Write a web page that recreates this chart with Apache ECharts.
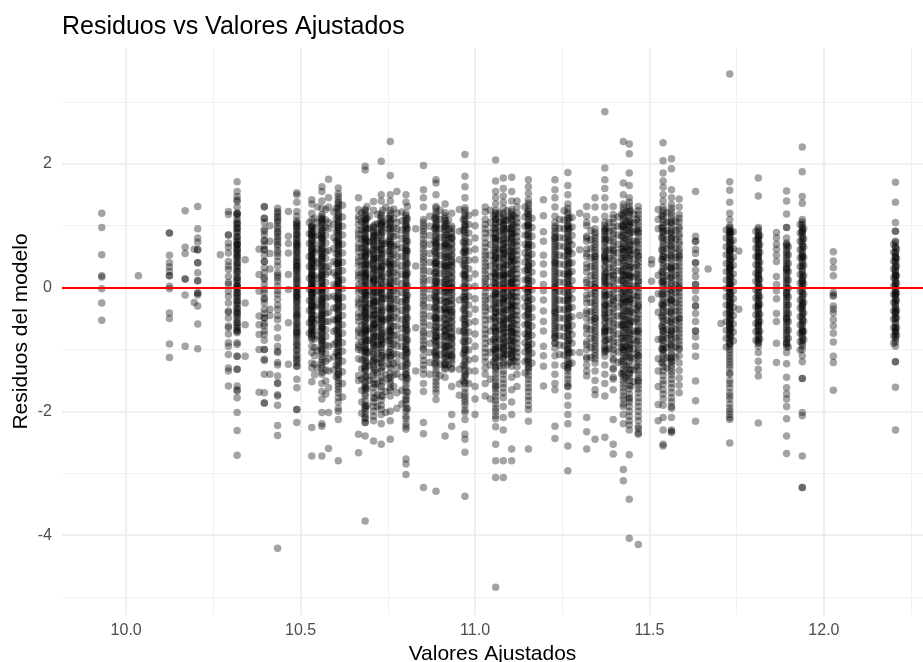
<!DOCTYPE html>
<html>
<head>
<meta charset="utf-8">
<title>Residuos vs Valores Ajustados</title>
<script src="https://cdn.jsdelivr.net/npm/echarts@6/dist/echarts.min.js"></script>
<style>
  html, body { margin: 0; padding: 0; background: #fff; }
  #chart { width: 923px; height: 662px; }
</style>
</head>
<body>
<div id="chart"></div>
<script>
// residuos, agrupados por valor ajustado (columna)
// en las columnas densas la segunda linea son los puntos superpuestos del nucleo negro
const c0993 = [1.20, 0.97, 0.53, 0.19, 0.17, -0.02, -0.25, -0.53];
const c1004 = [0.19];
const c1012 = [0.88, 0.88, 0.52, 0.40, 0.33, 0.26, 0.19, 0.19, 0.02, -0.02, -0.41, -0.50, -0.91, -1.13];
const c1017 = [1.24, 0.65, 0.55, 0.14, 0.14, -0.12, -0.95];
const c1019 = [0.62, -0.24];
const c1021 = [1.31, 0.95, 0.80, 0.73, 0.61, 0.61, 0.40, 0.40, 0.24, 0.11, 0.11, -0.09, -0.09, -0.12, -0.30, -0.59, -0.99];
const c1027 = [0.53];
const c1029 = [1.23, 1.18, 0.85, 0.85, 0.72, 0.65, 0.56, 0.42, 0.35, 0.29, 0.18, 0.08, 0.05, -0.06, -0.14, -0.25, -0.38, -0.40, -0.49, -0.62, -0.65, -0.75, -0.89, -0.95, -1.08, -1.30, -1.35, -1.59];
const c1032 = [1.71, 1.55, 1.47, 1.42, 1.39, 1.30, 1.20, 1.20, 1.19, 1.10, 1.03, 1.03, 0.95, 0.95, 0.88, 0.82, 0.82, 0.75, 0.69, 0.69, 0.69, 0.61, 0.61, 0.55, 0.51, 0.51, 0.45, 0.40, 0.40, 0.33, 0.26, 0.26, 0.21, 0.16, 0.16, 0.10, 0.02, 0.02, 0.02, -0.04, -0.09, -0.09, -0.15, -0.22, -0.22, -0.28, -0.34, -0.34, -0.41, -0.41, -0.48, -0.57, -0.57, -0.64, -0.70, -0.70, -0.73, -0.89, -0.92, -1.11, -1.11, -1.32, -1.32, -1.59, -1.65, -1.67, -1.78, -2.02, -2.31, -2.71,
  1.16, 1.06, .98, .90, .78, .72, .64, .58, .48, .36, .30, .12, .06, -.02, -.12, -.18, -.26, -.38, -.45, -.52, -.61, -.67];
const c1034 = [0.45, -0.25, -0.60, -1.11];
const c1038 = [0.62, 0.21, -0.06, -0.46, -0.60, -0.76, -1.00, -1.69];
const c1040 = [1.31, 1.30, 1.12, 1.12, 0.94, 0.91, 0.77, 0.75, 0.61, 0.61, 0.42, 0.42, 0.24, 0.16, 0.13, -0.03, -0.09, -0.17, -0.19, -0.35, -0.49, -0.49, -0.62, -0.70, -0.76, -1.00, -1.00, -1.16, -1.18, -1.40, -1.70, -1.86, -1.87,
  1.05, .85, .68, .52, .32, .05, -.25, -.42, -.58, -.85];
const c1041 = [1.00, 0.75, 0.55, 0.30, -0.35, -0.45, -1.40];
const c1043 = [1.28, 1.23, 1.15, 1.12, 1.05, 0.99, 0.95, 0.90, 0.83, 0.75, 0.70, 0.67, 0.60, 0.56, 0.42, 0.24, 0.20, 0.16, 0.02, -0.11, -0.19, -0.35, -0.52, -0.65, -0.81, -0.95, -1.03, -1.05, -1.21, -1.25, -1.43, -1.54, -1.55, -1.73, -1.75, -1.90, -2.23, -2.39, -4.21,
  1.20, 1.08, .88, .79, .50, .35, .10, -.05, -.28, -.45];
const c1046 = [1.23, 0.83, 0.71, 0.56, 0.21, -0.03, -0.57, -1.24];
const c1049 = [1.53, 1.50, 1.38, 1.23, 1.15, 1.04, 1.04, 0.98, 0.92, 0.85, 0.85, 0.78, 0.72, 0.67, 0.67, 0.60, 0.55, 0.51, 0.45, 0.40, 0.34, 0.34, 0.28, 0.22, 0.18, 0.12, 0.06, 0.02, -0.03, -0.08, -0.14, -0.14, -0.20, -0.25, -0.30, -0.36, -0.44, -0.44, -0.50, -0.55, -0.60, -0.67, -0.73, -0.73, -0.80, -0.89, -0.95, -1.02, -1.11, -1.18, -1.27, -1.27, -1.48, -1.62, -1.97, -1.97, -2.18,
  1.08, 1.00, .95, .88, .80, .74, .70, .63, .57, .48, .42, .37, .30, .25, .15, .09, -.01, -.06, -.11, -.17, -.23, -.33, -.40, -.47, -.58, -.64, -.70, -.77, -.84, -.92, -1.00, -1.08, -1.15, -1.22];
const c1053 = [1.42, 1.35, 1.20, 1.10, 1.00, 0.99, 0.94, 0.88, 0.85, 0.82, 0.76, 0.70, 0.64, 0.60, 0.58, 0.52, 0.47, 0.45, 0.41, 0.35, 0.30, 0.24, 0.20, 0.18, 0.12, 0.07, 0.05, 0.01, -0.05, -0.10, -0.11, -0.17, -0.23, -0.29, -0.30, -0.35, -0.41, -0.47, -0.50, -0.53, -0.59, -0.65, -0.70, -0.72, -0.78, -0.84, -0.95, -1.05, -1.22, -1.30, -1.52, -2.26, -2.72,
  .97, .91, .86, .79, .73, .67, .62, .55, .50, .43, .38, .32, .27, .21, .15, .09, .03, -.02, -.08, -.14, -.20, -.26, -.32, -.38, -.44, -.51, -.56, -.62, -.68, -.75, -.81];
const c1055 = [1.30, 1.05, .85, .62, .40, .15, -.05, -.28, -.52, -.78, -1.02, -1.30];
const c1056 = [1.63, 1.55, 1.40, 1.28, 1.15, 1.10, 1.08, 1.02, 0.95, 0.90, 0.84, 0.80, 0.78, 0.72, 0.66, 0.61, 0.55, 0.50, 0.49, 0.43, 0.37, 0.31, 0.25, 0.20, 0.19, 0.13, 0.08, 0.02, 0.00, -0.04, -0.10, -0.16, -0.20, -0.22, -0.28, -0.34, -0.40, -0.45, -0.46, -0.52, -0.58, -0.64, -0.65, -0.70, -0.76, -0.83, -0.85, -0.90, -0.98, -1.00, -1.07, -1.17, -1.25, -1.37, -1.55, -1.68, -1.80, -2.02, -2.20, -2.24, -2.72,
  1.18, 1.12, 1.05, .98, .92, .87, .81, .75, .69, .63, .58, .52, .46, .40, .34, .28, .22, .16, .10, .04, -.02, -.07, -.13, -.19, -.25, -.31, -.37, -.43, -.49, -.55, -.61, -.67, -.73, -.80, -.87, -.94, -1.03, -1.12, -1.21, -1.30, -1.40];
const c1058 = [1.75, 1.45, 1.30, 1.05, 0.95, 0.60, 0.35, 0.25, -0.15, -0.40, -0.55, -0.95, -1.15, -1.35, -1.62, -2.02, -2.60];
const c1059 = [1.22, 1.02, .81, .63, .42, .24, .05, -.14, -.33, -.52, -.71, -.92, -1.12, -1.33];
const c1061 = [1.61, 1.52, 1.47, 1.38, 1.30, 1.22, 1.15, 1.08, 1.01, 1.00, 0.94, 0.88, 0.81, 0.75, 0.70, 0.68, 0.62, 0.55, 0.49, 0.42, 0.40, 0.36, 0.30, 0.23, 0.17, 0.10, 0.10, 0.04, -0.02, -0.09, -0.15, -0.20, -0.22, -0.28, -0.35, -0.41, -0.48, -0.50, -0.54, -0.61, -0.67, -0.74, -0.80, -0.81, -0.88, -0.95, -1.02, -1.10, -1.10, -1.18, -1.26, -1.35, -1.40, -1.45, -1.55, -1.65, -1.78, -1.95, -2.13, -2.80,
  1.42, 1.35, 1.27, 1.18, 1.12, 1.05, .97, .91, .85, .78, .72, .65, .59, .52, .45, .39, .33, .26, .20, .13, .07, .01, -.05, -.12, -.18, -.25, -.31, -.38, -.44, -.51, -.57, -.64, -.70, -.77, -.84, -.91, -.98, -1.05, -1.14, -1.22, -1.30, -1.40, -1.50, -1.60, -1.70, -1.85, -2.00];
const c1067 = [1.45, 1.26, 1.15, 1.02, 0.92, 0.80, 0.70, 0.58, 0.48, 0.36, 0.25, 0.15, 0.04, -0.08, -0.19, -0.30, -0.42, -0.55, -0.68, -0.80, -0.92, -1.00, -1.15, -1.42, -1.50, -2.37, -2.67,
  1.10, .86, .64, .42, .20, -.02, -.25, -.48, -.72, -.96];
const c1068 = [1.96, 1.90, 1.26, 1.20, 1.12, 1.10, 1.05, 0.98, 0.92, 0.85, 0.80, 0.78, 0.72, 0.65, 0.58, 0.52, 0.50, 0.45, 0.38, 0.32, 0.25, 0.20, 0.18, 0.12, 0.05, -0.02, -0.08, -0.10, -0.15, -0.22, -0.28, -0.35, -0.40, -0.42, -0.48, -0.55, -0.62, -0.68, -0.70, -0.75, -0.82, -0.88, -0.95, -1.00, -1.02, -1.10, -1.18, -1.27, -1.30, -1.35, -1.45, -1.55, -1.60, -1.65, -1.75, -1.90, -1.95, -2.00, -2.10, -2.12, -2.18, -2.18, -2.40, -3.77,
  1.24, 1.16, 1.08, 1.02, .95, .88, .82, .75, .69, .62, .55, .49, .42, .36, .29, .22, .16, .09, .02, -.05, -.12, -.18, -.25, -.32, -.38, -.45, -.52, -.58, -.65, -.72, -.78, -.85, -.92, -.98, -1.05, -1.13, -1.22, -1.32, -1.42, -1.52, -1.62, -1.72, -1.83, -1.93, -2.05];
const c1070 = [1.15, .96, .74, .55, .36, .14, -.05, -.26, -.44, -.66, -.85, -1.04, -1.26, -1.50];
const c1071 = [1.39, 1.25, 0.99, 0.92, 0.85, 0.80, 0.77, 0.70, 0.62, 0.55, 0.47, 0.45, 0.40, 0.32, 0.25, 0.17, 0.10, 0.10, 0.02, -0.05, -0.13, -0.20, -0.25, -0.28, -0.35, -0.43, -0.50, -0.58, -0.60, -0.65, -0.73, -0.80, -0.88, -0.90, -0.98, -1.08, -1.18, -1.20, -1.30, -1.42, -1.55, -1.70, -1.85, -2.00, -2.15, -2.48,
  .97, .89, .82, .74, .67, .59, .52, .44, .37, .29, .22, .14, .07, -.01, -.09, -.16, -.23, -.31, -.38, -.46, -.53, -.61, -.68, -.76, -.83, -.93, -1.03, -1.13, -1.25, -1.37, -1.48, -1.62, -1.78, -1.92, -2.08];
const c1073 = [2.04, 1.50, 1.40, 1.20, 1.12, 1.04, 1.00, 0.96, 0.88, 0.80, 0.72, 0.64, 0.60, 0.56, 0.48, 0.40, 0.32, 0.30, 0.24, 0.16, 0.08, 0.00, -0.08, -0.10, -0.16, -0.24, -0.32, -0.40, -0.48, -0.50, -0.56, -0.64, -0.72, -0.80, -0.85, -0.88, -0.96, -1.05, -1.15, -1.20, -1.30, -1.45, -1.60, -1.75, -1.90, -2.05, -2.20, -2.53,
  1.16, 1.08, 1.01, .92, .84, .76, .68, .62, .52, .44, .36, .28, .20, .12, .04, -.04, -.12, -.20, -.28, -.36, -.44, -.52, -.60, -.68, -.76, -.84, -.92, -1.00, -1.10, -1.22, -1.35, -1.50, -1.65, -1.82, -1.97];
const c1074 = [1.30, 1.02, .71, .42, .09, -.18, -.52, -.79, -1.12, -1.41, -1.68, -2.02];
const c1075 = [2.36, 1.81, 1.50, 1.40, 1.25, 1.16, 1.07, 1.05, 0.98, 0.90, 0.82, 0.74, 0.70, 0.66, 0.58, 0.50, 0.42, 0.35, 0.34, 0.26, 0.18, 0.10, 0.02, 0.00, -0.06, -0.14, -0.22, -0.30, -0.35, -0.38, -0.46, -0.54, -0.62, -0.70, -0.70, -0.78, -0.86, -0.95, -1.05, -1.10, -1.15, -1.30, -1.45, -1.55, -1.62, -1.75, -2.00, -2.15, -2.45,
  1.20, 1.11, 1.02, .94, .86, .78, .70, .62, .54, .46, .38, .30, .22, .14, .06, -.02, -.10, -.18, -.26, -.34, -.42, -.50, -.58, -.66, -.74, -.82, -.90, -1.00, -1.12, -1.25, -1.38, -1.50, -1.66];
const c1078 = [1.55, 1.20, 0.95, 0.70, 0.50, 0.30, 0.10, -0.10, -0.30, -0.50, -0.75, -0.95, -1.20, -1.40, -1.70, -1.95,
  1.05, .85, .62, .40, .20, 0, -.20, -.40, -.62, -.85, -1.08, -1.30];
const c1080 = [1.50, 1.38, 1.20, 1.12, 1.04, 1.00, 0.96, 0.88, 0.80, 0.72, 0.64, 0.60, 0.56, 0.48, 0.40, 0.32, 0.24, 0.20, 0.16, 0.08, 0.00, -0.08, -0.16, -0.20, -0.24, -0.32, -0.40, -0.48, -0.56, -0.60, -0.64, -0.72, -0.80, -0.88, -0.96, -1.00, -1.04, -1.12, -1.20, -1.30, -1.40, -1.40, -1.50, -1.62, -1.75, -1.80, -1.88, -2.00, -2.12, -2.20, -2.25, -2.29, -2.77, -2.85, -3.02,
  1.16, 1.08, 1.00, .92, .84, .76, .68, .60, .52, .44, .36, .28, .20, .12, .04, -.04, -.12, -.20, -.28, -.36, -.44, -.52, -.60, -.68, -.76, -.84, -.92, -1.00, -1.08, -1.16, -1.25, -1.35, -1.45, -1.56, -1.68, -1.82, -1.95, -2.08];
const c1083 = [0.95, 0.35, -0.65, -1.35];
const c1085 = [1.97, 1.58, 1.45, 1.30, 1.10, 1.00, 0.90, 0.85, 0.78, 0.68, 0.56, 0.50, 0.45, 0.33, 0.22, 0.15, 0.10, -0.02, -0.14, -0.26, -0.30, -0.38, -0.50, -0.62, -0.70, -0.74, -0.86, -0.98, -1.00, -1.10, -1.25, -1.40, -1.55, -1.68, -2.18, -2.36, -3.23,
  1.05, .95, .72, .62, .40, .28, .05, -.08, -.20, -.44, -.56, -.80, -.92, -1.18, -1.32];
const c1089 = [1.74, 1.69, 1.50, 1.31, 1.22, 1.14, 1.06, 1.00, 0.98, 0.90, 0.82, 0.74, 0.70, 0.66, 0.58, 0.50, 0.42, 0.40, 0.34, 0.26, 0.18, 0.10, 0.10, 0.02, -0.06, -0.14, -0.20, -0.22, -0.30, -0.38, -0.46, -0.50, -0.54, -0.62, -0.70, -0.78, -0.80, -0.86, -0.94, -1.02, -1.10, -1.12, -1.22, -1.34, -1.46, -1.58, -1.70, -1.81, -3.29,
  1.28, 1.18, 1.10, 1.02, .94, .86, .78, .71, .63, .55, .47, .39, .31, .23, .15, .07, -.01, -.09, -.17, -.25, -.33, -.41, -.49, -.57, -.65, -.73, -.81, -.89, -.97, -1.06, -1.16, -1.27, -1.39, -1.52, -1.64];
const c1091 = [1.35, 1.21, 1.12, 1.03, 1.00, 0.94, 0.85, 0.76, 0.70, 0.67, 0.58, 0.49, 0.40, 0.35, 0.31, 0.22, 0.13, 0.04, 0.00, -0.05, -0.14, -0.23, -0.32, -0.35, -0.41, -0.50, -0.59, -0.68, -0.70, -0.77, -0.86, -0.95, -1.00, -1.04, -1.13, -1.22, -1.25, -1.32, -1.45, -2.40,
  1.16, 1.08, .98, .90, .81, .72, .63, .54, .45, .36, .27, .18, .09, .02, -.07, -.16, -.25, -.34, -.43, -.52, -.61, -.70, -.79, -.88, -.97, -1.06, -1.15, -1.24, -1.30];
const c1093 = [1.20, 0.99, 0.90, 0.81, 0.80, 0.72, 0.63, 0.54, 0.45, 0.40, 0.36, 0.27, 0.18, 0.09, 0.00, 0.00, -0.09, -0.18, -0.27, -0.36, -0.40, -0.45, -0.54, -0.63, -0.72, -0.80, -0.81, -0.90, -0.99, -1.08, -1.10, -1.17, -1.32, -1.60, -2.05, -2.24,
  .96, .87, .78, .69, .60, .51, .42, .33, .24, .15, .06, -.03, -.12, -.21, -.30, -.39, -.48, -.57, -.66, -.75, -.84, -.93, -1.02, -1.12, -1.22, -1.30];
const c1095 = [1.26, 0.91, 0.45, -0.20, -0.70, -1.32, -1.56, -1.74];
const c1097 = [2.15, 1.80, 1.63, 1.45, 1.29, 1.20, 1.11, 1.02, 1.00, 0.93, 0.84, 0.75, 0.66, 0.60, 0.57, 0.48, 0.39, 0.30, 0.21, 0.20, 0.12, 0.03, -0.06, -0.15, -0.20, -0.24, -0.33, -0.42, -0.51, -0.60, -0.60, -0.69, -0.78, -0.87, -0.96, -1.00, -1.05, -1.15, -1.25, -1.35, -1.40, -1.45, -1.55, -1.70, -1.80, -1.85, -2.02, -2.13, -2.37, -2.45, -2.66, -3.37,
  1.25, 1.16, 1.07, .98, .89, .80, .71, .62, .53, .44, .35, .26, .17, .08, -.01, -.10, -.19, -.28, -.37, -.46, -.55, -.64, -.73, -.82, -.91, -1.01, -1.10, -1.20, -1.30, -1.42, -1.52, -1.63, -1.75, -1.90, -1.98];
const c1100 = [1.21, 1.00, 0.80, 0.62, 0.45, 0.22, 0.02, -0.18, -0.35, -0.55, -0.75, -0.95, -1.15, -1.35, -1.60, -1.80, -2.05];
const c1103 = [1.30, 1.10, 0.95, 0.80, 0.65, 0.52, 0.40, 0.28, 0.15, 0.05, -0.08, -0.20, -0.32, -0.45, -0.60, -0.75, -0.90, -1.05, -1.20, -1.40, -1.55, -1.75,
  1.22, 1.02, .88, .72, .58, .46, .34, .22, .10, 0, -.14, -.26, -.38, -.52, -.68, -.82, -.98, -1.12, -1.30];
const c1104 = [1.25, 1.05, .88, .70, .52, .35, .18, 0, -.18, -.35, -.52, -.70, -.88, -1.05, -1.25, -1.48, -1.80];
const c1106 = [2.06, 1.72, 1.55, 1.45, 1.35, 1.25, 1.21, 1.13, 1.10, 1.05, 0.97, 0.89, 0.81, 0.80, 0.73, 0.65, 0.57, 0.50, 0.49, 0.41, 0.33, 0.25, 0.20, 0.17, 0.09, 0.01, -0.07, -0.10, -0.15, -0.23, -0.31, -0.39, -0.40, -0.47, -0.55, -0.63, -0.70, -0.71, -0.79, -0.87, -0.95, -1.00, -1.03, -1.11, -1.16, -1.28, -1.30, -1.40, -1.52, -1.60, -1.64, -1.76, -1.88, -2.00, -2.12, -2.25, -2.53, -2.80, -3.07, -4.84,
  1.18, 1.10, 1.02, .94, .86, .78, .70, .62, .54, .46, .38, .30, .22, .14, .06, -.02, -.10, -.18, -.26, -.34, -.42, -.50, -.58, -.66, -.74, -.82, -.90, -.98, -1.06, -1.14, -1.22, -1.34, -1.46, -1.58, -1.70, -1.82, -1.95, -2.07];
const c1108 = [1.77, 1.60, 1.48, 1.38, 1.28, 1.20, 1.12, 1.04, 1.00, 0.96, 0.88, 0.80, 0.72, 0.64, 0.60, 0.56, 0.48, 0.40, 0.32, 0.24, 0.20, 0.16, 0.08, 0.00, -0.08, -0.16, -0.20, -0.24, -0.32, -0.40, -0.48, -0.56, -0.60, -0.64, -0.72, -0.80, -0.88, -0.96, -1.00, -1.04, -1.12, -1.22, -1.35, -1.48, -1.62, -1.78, -1.92, -2.10, -2.30, -2.80, -3.07,
  1.17, 1.09, 1.01, .93, .85, .77, .69, .61, .53, .45, .37, .29, .21, .13, .05, -.03, -.11, -.19, -.27, -.35, -.43, -.51, -.59, -.67, -.75, -.83, -.91, -.99, -1.07, -1.15, -1.25, -1.40, -1.55, -1.70];
const c1111 = [1.78, 1.55, 1.40, 1.26, 1.18, 1.10, 1.02, 0.94, 0.90, 0.86, 0.78, 0.70, 0.62, 0.54, 0.50, 0.46, 0.38, 0.30, 0.22, 0.14, 0.10, 0.06, -0.02, -0.10, -0.18, -0.26, -0.30, -0.34, -0.42, -0.50, -0.58, -0.66, -0.70, -0.74, -0.82, -0.90, -0.98, -1.06, -1.10, -1.14, -1.27, -1.45, -1.65, -1.85, -2.05, -2.61, -2.80,
  1.22, 1.14, 1.06, .98, .88, .82, .74, .66, .58, .48, .42, .34, .26, .18, .08, .02, -.06, -.14, -.22, -.32, -.38, -.46, -.54, -.62, -.72, -.78, -.86, -.94, -1.02, -1.12, -1.20];
const c1112 = [1.40, 1.20, 1.05, 0.90, 0.75, 0.60, 0.45, 0.30, 0.15, 0.00, -0.15, -0.30, -0.45, -0.60, -0.75, -0.90, -1.05, -1.20, -1.40, -1.60,
  1.30, 1.12, .98, .82, .68, .52, .38, .22, .08, -.08, -.22, -.38, -.52, -.68, -.82, -.98, -1.12, -1.28];
const c1115 = [1.74, 1.63, 1.52, 1.42, 1.32, 1.23, 1.14, 1.05, 1.00, 0.96, 0.87, 0.78, 0.70, 0.69, 0.60, 0.51, 0.42, 0.35, 0.33, 0.24, 0.15, 0.06, 0.00, -0.03, -0.12, -0.21, -0.30, -0.35, -0.39, -0.48, -0.57, -0.66, -0.70, -0.75, -0.84, -0.93, -1.00, -1.02, -1.11, -1.20, -1.30, -1.30, -1.42, -1.55, -1.68, -1.82, -1.97, -2.16, -2.61,
  1.36, 1.26, 1.18, 1.10, 1.01, .92, .83, .74, .65, .56, .47, .38, .29, .20, .11, .02, -.07, -.16, -.25, -.34, -.43, -.52, -.61, -.70, -.79, -.88, -.97, -1.06, -1.15, -1.25, -1.36, -1.48, -1.62, -1.76, -1.90];
const c1120 = [1.42, 1.16, 0.90, 0.75, 0.52, 0.38, 0.22, 0.05, -0.05, -0.20, -0.38, -0.55, -0.70, -0.95, -1.10, -1.27, -1.59];
const c1123 = [1.74, 1.58, 1.45, 1.30, 1.15, 1.05, 0.99, 0.90, 0.82, 0.80, 0.74, 0.66, 0.58, 0.50, 0.42, 0.40, 0.34, 0.26, 0.18, 0.10, 0.02, 0.00, -0.06, -0.14, -0.22, -0.30, -0.38, -0.40, -0.46, -0.54, -0.62, -0.70, -0.78, -0.80, -0.89, -0.98, -1.10, -1.25, -1.40, -1.55, -1.65, -2.24, -2.44,
  .96, .87, .78, .70, .62, .54, .46, .38, .30, .22, .14, .06, -.02, -.10, -.18, -.26, -.34, -.42, -.50, -.58, -.66, -.74, -.82, -.90];
const c1127 = [1.86, 1.65, 1.50, 1.35, 1.22, 1.12, 1.02, 1.00, 0.94, 0.86, 0.78, 0.70, 0.62, 0.60, 0.54, 0.46, 0.38, 0.30, 0.22, 0.20, 0.14, 0.06, -0.02, -0.10, -0.18, -0.20, -0.26, -0.34, -0.42, -0.50, -0.58, -0.60, -0.66, -0.74, -0.82, -0.90, -0.98, -1.00, -1.06, -1.15, -1.25, -1.30, -1.35, -1.48, -1.60, -1.60, -1.75, -1.90, -2.05, -2.20, -2.56, -2.96,
  1.28, 1.18, 1.08, .98, .90, .82, .74, .66, .58, .50, .42, .34, .26, .18, .10, .02, -.06, -.14, -.22, -.30, -.38, -.46, -.54, -.62, -.70, -.78, -.86, -.94, -1.02, -1.10, -1.20, -1.30, -1.42, -1.55];
const c1129 = [1.20, 0.61, -0.45, -1.05];
const c1132 = [1.31, 1.15, 1.00, 0.83, 0.75, 0.62, 0.50, 0.38, 0.25, 0.12, 0.00, -0.12, -0.25, -0.38, -0.50, -0.62, -0.75, -0.88, -1.00, -1.12, -1.25, -1.43, -2.10, -2.33, -2.61,
  1.05, .80, .55, .32, .08, -.18, -.42, -.66, -.92, -1.15, -1.35];
const c1134 = [1.45, 1.30, 1.10, 0.89, 0.80, 0.70, 0.60, 0.50, 0.50, 0.40, 0.30, 0.20, 0.10, 0.00, 0.00, -0.10, -0.20, -0.30, -0.40, -0.50, -0.50, -0.60, -0.70, -0.80, -0.90, -1.00, -1.10, -1.22, -1.35, -1.50, -1.65, -1.73, -2.45,
  .95, .85, .75, .65, .55, .45, .35, .25, .15, .05, -.05, -.15, -.25, -.35, -.45, -.55, -.65, -.75, -.85, -.95, -1.05, -1.15];
const c1137 = [2.84, 1.93, 1.74, 1.60, 1.45, 1.30, 1.15, 1.05, 0.95, 0.90, 0.85, 0.75, 0.65, 0.55, 0.50, 0.45, 0.35, 0.25, 0.15, 0.10, 0.05, -0.05, -0.15, -0.25, -0.30, -0.35, -0.45, -0.55, -0.65, -0.70, -0.75, -0.85, -0.95, -1.11, -1.25, -1.40, -1.55, -1.75, -2.42,
  1.00, .92, .82, .78, .72, .62, .52, .48, .42, .32, .22, .18, .12, .02, -.08, -.12, -.18, -.28, -.38, -.42, -.48, -.58, -.68, -.72, -.78, -.88, -.98, -1.02, -1.05];
const c1140 = [1.31, 1.18, 1.05, 0.92, 0.80, 0.68, 0.60, 0.56, 0.44, 0.32, 0.20, 0.20, 0.08, -0.04, -0.16, -0.20, -0.28, -0.40, -0.52, -0.64, -0.76, -0.88, -1.00, -1.15, -1.30, -1.45, -1.65, -2.13, -2.53, -2.69,
  1.12, .98, .86, .74, .62, .50, .38, .26, .14, .02, -.10, -.22, -.34, -.46, -.58, -.70, -.82, -.94, -1.06, -1.18, -1.32, -1.48];
const c1143 = [2.36, 1.69, 1.50, 1.35, 1.25, 1.16, 1.07, 1.00, 0.98, 0.89, 0.80, 0.71, 0.62, 0.60, 0.53, 0.44, 0.35, 0.26, 0.20, 0.17, 0.08, -0.01, -0.10, -0.19, -0.20, -0.28, -0.37, -0.46, -0.55, -0.60, -0.64, -0.73, -0.82, -0.91, -1.00, -1.00, -1.10, -1.20, -1.32, -1.40, -1.44, -1.56, -1.68, -1.80, -1.92, -2.05, -2.20, -2.94, -3.12,
  1.30, 1.20, 1.11, 1.02, .93, .84, .75, .66, .57, .48, .39, .30, .21, .12, .03, -.06, -.15, -.24, -.33, -.42, -.51, -.60, -.69, -.78, -.87, -.96, -1.05, -1.15, -1.25, -1.37, -1.50, -1.62, -1.75, -1.88];
const c1144 = [2.32, 2.16, 1.85, 1.65, 1.45, 1.32, 1.22, 1.12, 1.02, 1.00, 0.92, 0.82, 0.72, 0.62, 0.60, 0.52, 0.42, 0.32, 0.22, 0.20, 0.12, 0.02, -0.08, -0.18, -0.20, -0.28, -0.38, -0.48, -0.58, -0.60, -0.68, -0.78, -0.88, -0.98, -1.00, -1.08, -1.20, -1.32, -1.40, -1.45, -1.58, -1.72, -1.80, -1.85, -2.00, -2.15, -2.30, -2.70, -3.42, -4.05,
  1.38, 1.27, 1.17, 1.07, .97, .87, .77, .67, .57, .47, .37, .27, .17, .07, -.03, -.13, -.23, -.33, -.43, -.53, -.63, -.73, -.83, -.93, -1.03, -1.13, -1.25, -1.38, -1.50, -1.64, -1.78, -1.92, -2.08, -2.22];
const c1147 = [1.31, 1.18, 1.06, 0.94, 0.90, 0.82, 0.70, 0.58, 0.50, 0.46, 0.34, 0.22, 0.10, 0.10, -0.02, -0.14, -0.26, -0.30, -0.38, -0.50, -0.62, -0.70, -0.74, -0.86, -0.98, -1.10, -1.10, -1.22, -1.34, -1.46, -1.50, -1.58, -1.70, -1.85, -2.00, -2.15, -2.25, -2.28, -2.35, -2.37, -4.15,
  1.24, 1.12, 1.00, .88, .76, .64, .52, .40, .28, .16, .04, -.08, -.20, -.32, -.44, -.56, -.68, -.80, -.92, -1.04, -1.16, -1.28, -1.40, -1.52, -1.64, -1.78, -1.92, -2.08];
const c1151 = [0.45, 0.38, 0.10, -0.19];
const c1152 = [1.26, 1.10, 0.95, 0.20, -0.10, -0.40, -0.84, -1.15, -1.35, -1.60, -1.89, -2.15];
const c1154 = [2.34, 2.05, 1.85, 1.72, 1.62, 1.50, 1.40, 1.30, 1.20, 1.10, 1.00, 0.90, 0.90, 0.80, 0.70, 0.60, 0.50, 0.50, 0.40, 0.30, 0.20, 0.10, 0.10, 0.00, -0.10, -0.20, -0.30, -0.30, -0.40, -0.50, -0.60, -0.70, -0.70, -0.80, -0.90, -1.00, -1.00, -1.10, -1.22, -1.35, -1.50, -1.65, -1.80, -2.10, -2.30, -2.53, -2.56,
  1.25, 1.15, 1.05, .95, .85, .75, .65, .55, .45, .35, .25, .15, .05, -.05, -.15, -.25, -.35, -.45, -.55, -.65, -.75, -.85, -.95, -1.05, -1.16, -1.28, -1.42, -1.56, -1.72, -1.90];
const c1156 = [2.08, 1.92, 1.58, 1.45, 1.34, 1.23, 1.12, 1.01, 0.90, 0.80, 0.79, 0.68, 0.57, 0.46, 0.35, 0.30, 0.24, 0.13, 0.02, -0.09, -0.20, -0.20, -0.31, -0.42, -0.53, -0.64, -0.70, -0.75, -0.86, -0.97, -1.08, -1.19, -1.20, -1.30, -1.41, -1.55, -1.70, -1.85, -1.95, -2.10, -2.30, -2.32, -2.34,
  1.28, 1.17, 1.06, .95, .84, .73, .62, .51, .40, .29, .18, .07, -.04, -.15, -.26, -.37, -.48, -.59, -.70, -.81, -.92, -1.03, -1.14, -1.25, -1.36, -1.48, -1.62, -1.78, -1.92];
const c1158 = [1.43, 1.30, 1.18, 1.06, 0.94, 0.82, 0.70, 0.58, 0.50, 0.46, 0.34, 0.22, 0.10, 0.00, -0.02, -0.14, -0.26, -0.38, -0.50, -0.50, -0.62, -0.74, -0.86, -0.98, -1.00, -1.10, -1.22, -1.34, -1.46, -1.58, -1.70,
  1.12, .98, .86, .74, .62, .52, .40, .28, .16, .04, -.08, -.20, -.32, -.44, -.56, -.68, -.80, -.92];
const c1163 = [1.55, 0.83, 0.75, 0.75, 0.62, 0.55, 0.40, 0.40, 0.28, 0.18, 0.05, 0.05, -0.05, -0.18, -0.30, -0.30, -0.42, -0.55, -0.70, -0.70, -0.80, -0.95, -1.11, -1.51, -1.83, -2.16];
const c1167 = [0.30];
const c1170 = [-0.58];
const c1173 = [3.45, 1.71, 1.57, 1.38, 1.20, 1.10, 1.00, 0.94, 0.90, 0.88, 0.82, 0.76, 0.70, 0.64, 0.60, 0.58, 0.52, 0.46, 0.40, 0.34, 0.30, 0.28, 0.22, 0.16, 0.10, 0.04, 0.00, -0.02, -0.08, -0.14, -0.20, -0.26, -0.30, -0.32, -0.38, -0.44, -0.50, -0.56, -0.60, -0.62, -0.68, -0.74, -0.80, -0.88, -0.90, -0.95, -1.05, -1.15, -1.25, -1.30, -1.38, -1.50, -1.62, -1.70, -1.75, -1.88, -2.00, -2.10, -2.13, -2.51,
  .97, .91, .85, .79, .73, .67, .61, .55, .49, .43, .37, .31, .25, .19, .13, .07, .01, -.05, -.11, -.17, -.23, -.29, -.35, -.41, -.47, -.53, -.59, -.65, -.71, -.77, -.83, -.92, -1.00, -1.10, -1.20, -1.40, -1.55, -1.80, -1.95, -2.05];
const c1176 = [0.59, -0.35];
const c1181 = [1.77, 1.48, 0.97, 0.90, 0.83, 0.80, 0.76, 0.69, 0.62, 0.55, 0.50, 0.48, 0.41, 0.34, 0.27, 0.20, 0.20, 0.13, 0.06, -0.01, -0.08, -0.15, -0.22, -0.29, -0.30, -0.36, -0.43, -0.50, -0.57, -0.60, -0.64, -0.71, -0.78, -0.85, -0.90, -0.95, -1.05, -1.19, -1.32, -1.43, -2.19,
  .94, .86, .79, .72, .65, .58, .51, .44, .37, .30, .23, .16, .09, .02, -.05, -.12, -.19, -.26, -.33, -.40, -.47, -.54, -.61, -.68, -.75, -.82, -.88];
const c1186 = [0.89, 0.80, 0.70, 0.62, 0.52, 0.42, 0.18, 0.05, -0.05, -0.18, -0.42, -0.55, -0.90, -1.21];
const c1189 = [1.56, 1.40, 1.19, 0.97, 0.97, 0.80, 0.72, 0.70, 0.64, 0.56, 0.48, 0.40, 0.32, 0.30, 0.24, 0.16, 0.08, 0.00, -0.08, -0.10, -0.16, -0.24, -0.32, -0.40, -0.48, -0.50, -0.56, -0.64, -0.72, -0.80, -0.88, -0.90, -0.96, -1.05, -1.23, -1.45, -1.62, -1.72, -1.80, -1.92, -2.12, -2.40, -2.68,
  .68, .60, .52, .44, .36, .28, .20, .12, .04, -.04, -.12, -.20, -.28, -.36, -.44, -.52, -.60, -.68, -.76, -.84, -.92];
const c1194 = [2.27, 1.87, 1.47, 1.36, 1.10, 1.02, 0.94, 0.90, 0.86, 0.78, 0.70, 0.62, 0.54, 0.50, 0.46, 0.38, 0.30, 0.22, 0.14, 0.10, 0.06, -0.02, -0.10, -0.18, -0.26, -0.30, -0.34, -0.42, -0.50, -0.58, -0.66, -0.70, -0.74, -0.82, -0.90, -1.00, -1.10, -1.20, -1.47, -1.47, -2.02, -2.07, -2.72, -3.23, -3.23,
  1.06, .98, .90, .82, .74, .66, .58, .50, .42, .34, .26, .18, .10, .02, -.06, -.14, -.22, -.30, -.38, -.46, -.54, -.62, -.70, -.78, -.86, -.94];
const c1203 = [0.58, 0.43, 0.32, 0.19, -0.08, -0.12, -0.14, -0.30, -0.35, -0.41, -0.52, -0.62, -0.74, -0.88, -1.11, -1.21, -1.66];
const c1221 = [1.70, 1.38, 1.05, 0.91, 0.91, 0.75, 0.65, 0.55, 0.50, 0.47, 0.40, 0.32, 0.25, 0.20, 0.18, 0.10, 0.03, -0.04, -0.10, -0.11, -0.18, -0.25, -0.32, -0.40, -0.40, -0.48, -0.56, -0.64, -0.70, -0.72, -0.80, -0.88, -0.95, -1.20, -1.20, -1.61, -2.30,
  .73, .66, .58, .50, .42, .35, .28, .21, .14, .07, 0, -.07, -.14, -.21, -.28, -.35, -.43, -.51, -.59, -.67, -.75, -.83];

// columnas vecinas dentro de las bandas negras (solo el nucleo denso)
const s1054 = [1.12, .96, .83, .71, .57, .44, .33, .19, .06, -.07, -.18, -.31, -.45, -.58, -.69, -.83, -.97, -1.10, -1.24, -1.41];
const s1057 = [1.26, 1.09, .97, .84, .72, .58, .47, .33, .21, .08, -.04, -.17, -.29, -.42, -.55, -.68, -.79, -.93, -1.06, -1.19, -1.33, -1.51, -1.72];
const s1062 = [1.33, 1.14, .99, .85, .70, .56, .41, .27, .12, -.02, -.16, -.31, -.45, -.60, -.74, -.89, -1.03, -1.19, -1.36, -1.55, -1.77];
const s1068 = [1.21, 1.06, .93, .78, .64, .51, .36, .23, .09, -.05, -.19, -.33, -.46, -.61, -.74, -.88, -1.02, -1.17, -1.31, -1.48, -1.66, -1.85, -2.03];
const s1072 = [1.18, 1.03, .89, .76, .61, .47, .34, .20, .05, -.08, -.22, -.37, -.50, -.64, -.79, -.92, -1.06, -1.22, -1.38, -1.55, -1.74, -1.92];
const s1077 = [1.27, 1.11, .96, .82, .67, .53, .38, .24, .10, -.05, -.19, -.34, -.48, -.63, -.77, -.92, -1.07, -1.23, -1.41, -1.60];
const s1079 = [1.22, 1.08, .93, .79, .64, .50, .35, .21, .06, -.08, -.23, -.37, -.52, -.66, -.81, -.95, -1.10, -1.27, -1.45, -1.66, -1.88];
const s1087 = [1.15, .99, .84, .70, .55, .41, .26, .12, -.03, -.17, -.32, -.46, -.61, -.75, -.90, -1.05, -1.21, -1.40];
const s1090 = [1.25, 1.10, .95, .81, .66, .52, .37, .23, .08, -.06, -.21, -.35, -.50, -.64, -.79, -.93, -1.08, -1.24, -1.42];
const s1092 = [1.09, .94, .80, .65, .51, .36, .22, .07, -.07, -.22, -.36, -.51, -.65, -.80, -.94, -1.09, -1.25];
const s1098 = [1.17, 1.02, .88, .73, .59, .44, .30, .15, .01, -.14, -.28, -.43, -.57, -.72, -.86, -1.01, -1.17, -1.35, -1.55];
const s1107 = [1.20, 1.06, .91, .77, .62, .48, .33, .19, .04, -.10, -.25, -.39, -.54, -.68, -.83, -.97, -1.12, -1.26];
const s1109 = [1.24, 1.09, .95, .80, .66, .51, .37, .22, .08, -.07, -.21, -.36, -.50, -.65, -.79, -.94, -1.08, -1.25];
const s1113 = [1.16, 1.01, .87, .72, .58, .43, .29, .14, 0, -.15, -.29, -.44, -.58, -.73, -.87, -1.02, -1.18];
const s1114 = [1.30, 1.14, .99, .85, .70, .56, .41, .27, .12, -.02, -.17, -.31, -.46, -.60, -.75, -.89, -1.04, -1.20, -1.38];
const s1116 = [1.12, .97, .83, .68, .54, .39, .25, .10, -.04, -.19, -.33, -.48, -.62, -.77, -.91, -1.06, -1.22];
const s1124 = [1.10, .96, .81, .67, .52, .38, .23, .09, -.06, -.20, -.35, -.49, -.64, -.78, -.93, -1.08];
const s1126 = [1.24, 1.09, .95, .80, .66, .51, .37, .22, .08, -.07, -.21, -.36, -.50, -.65, -.79, -.94, -1.09, -1.26];
const s1128 = [1.13, .98, .84, .69, .55, .40, .26, .11, -.03, -.18, -.32, -.47, -.61, -.76, -.90, -1.05, -1.22];
const s1133 = [.92, .77, .63, .48, .34, .19, .05, -.10, -.24, -.39, -.53, -.68, -.82, -.97, -1.13];
const s1138 = [1.05, .90, .76, .61, .47, .32, .18, .03, -.11, -.26, -.40, -.55, -.69, -.84, -.98];
const s1141 = [1.14, .99, .85, .70, .56, .41, .27, .12, -.02, -.17, -.31, -.46, -.60, -.75, -.89, -1.04, -1.21];
const s1143 = [1.22, 1.07, .93, .78, .64, .49, .35, .20, .06, -.09, -.23, -.38, -.52, -.67, -.81, -.96, -1.11, -1.28, -1.47];
const s1145 = [1.19, 1.04, .90, .75, .61, .46, .32, .17, .03, -.12, -.26, -.41, -.55, -.70, -.84, -.99, -1.15, -1.33, -1.52];
const s1155 = [1.21, 1.06, .92, .77, .63, .48, .34, .19, .05, -.10, -.24, -.39, -.53, -.68, -.82, -.97, -1.13, -1.30];
const s1157 = [1.07, .92, .78, .63, .49, .34, .20, .05, -.09, -.24, -.38, -.53, -.67, -.82, -.96, -1.12];
const s1172 = [.93, .80, .66, .53, .39, .26, .12, -.01, -.15, -.28, -.42, -.55, -.69, -.82, -.96];
const s1174 = [.90, .76, .63, .49, .36, .22, .09, -.05, -.18, -.32, -.45, -.59, -.72, -.86];
const s1180 = [.91, .77, .64, .50, .37, .23, .10, -.04, -.17, -.31, -.44, -.58, -.71, -.85];
const s1190 = [.66, .53, .39, .26, .12, -.01, -.15, -.28, -.42, -.55, -.69, -.82, -.96];
const s1193 = [1.02, .88, .75, .61, .48, .34, .21, .07, -.06, -.20, -.33, -.47, -.60, -.74, -.87, -1.01];
const s1220 = [.70, .57, .43, .30, .16, .03, -.11, -.24, -.38, -.51, -.65, -.78, -.90];
const t1052 = [1.05, .87, .71, .50, .34, .15, -.03, -.21, -.37, -.57, -.74];
const t1060 = [1.28, 1.11, .91, .75, .55, .39, .19, .03, -.17, -.33, -.53, -.69, -.89, -1.05, -1.25, -1.44];
const t1069 = [1.31, 1.11, .95, .75, .59, .39, .23, .03, -.13, -.33, -.49, -.69, -.85, -1.05, -1.21, -1.43, -1.63, -1.91];
const t1071 = [1.02, .85, .65, .49, .29, .13, -.07, -.23, -.43, -.59, -.79, -.95, -1.15, -1.33, -1.57, -1.79];
const t1073 = [1.25, 1.06, .90, .70, .54, .34, .18, -.02, -.18, -.38, -.54, -.74, -.90, -1.10, -1.28, -1.53, -1.75];
const t1075 = [1.12, .95, .75, .59, .39, .23, .03, -.13, -.33, -.49, -.69, -.85, -1.05, -1.23, -1.47];
const t1080 = [1.31, 1.11, .95, .75, .59, .39, .23, .03, -.13, -.33, -.49, -.69, -.85, -1.05, -1.23, -1.47, -1.69, -1.96];
const t1089 = [1.12, .95, .75, .59, .39, .23, .03, -.13, -.33, -.49, -.69, -.85, -1.05, -1.23];
const t1091 = [1.04, .85, .69, .49, .33, .13, -.03, -.23, -.39, -.59, -.75, -.95, -1.11];
const t1097 = [1.10, .93, .73, .57, .37, .21, .01, -.15, -.35, -.51, -.71, -.87, -1.07, -1.25, -1.51];
const t1105 = [1.15, .96, .80, .60, .44, .24, .08, -.12, -.28, -.48, -.64, -.84, -1.00, -1.20];
const t1108 = [1.08, .91, .71, .55, .35, .19, -.01, -.17, -.37, -.53, -.73, -.89, -1.09];
const t1110 = [1.14, .95, .79, .59, .43, .23, .07, -.13, -.29, -.49, -.65, -.85, -1.01, -1.21];
const t1115 = [1.20, 1.01, .85, .65, .49, .29, .13, -.07, -.23, -.43, -.59, -.79, -.95, -1.17];
const t1127 = [1.12, .95, .75, .59, .39, .23, .03, -.13, -.33, -.49, -.69, -.85, -1.05, -1.23];
const t1137 = [.96, .79, .59, .43, .23, .07, -.13, -.29, -.49, -.65, -.85, -1.01];
const t1142 = [1.18, .99, .83, .63, .47, .27, .11, -.09, -.25, -.45, -.61, -.81, -.97, -1.19, -1.39];
const t1144 = [1.24, 1.05, .89, .69, .53, .33, .17, -.03, -.19, -.39, -.55, -.75, -.91, -1.13, -1.33, -1.59];
const t1147 = [1.10, .93, .73, .57, .37, .21, .01, -.15, -.35, -.51, -.71, -.87, -1.07, -1.27];
const t1154 = [1.16, .97, .81, .61, .45, .25, .09, -.11, -.27, -.47, -.63, -.83, -.99, -1.21];
const t1156 = [1.05, .88, .68, .52, .32, .16, -.04, -.20, -.40, -.56, -.76, -.92, -1.14];
const t1173 = [.88, .73, .61, .45, .33, .17, .05, -.11, -.23, -.39, -.51, -.67, -.79];
const t1181 = [.84, .69, .57, .41, .29, .13, .01, -.15, -.27, -.43, -.55, -.71, -.83];
const t1194 = [.95, .79, .66, .49, .36, .19, .06, -.11, -.24, -.41, -.54, -.71, -.84];
const t1221 = [.62, .47, .35, .19, .07, -.09, -.21, -.37, -.49, -.65, -.77];

// valor ajustado de cada columna, en el mismo orden
const fitted = [9.930, 10.035, 10.124, 10.169, 10.195, 10.205, 10.270, 10.293, 10.318, 10.341,
  10.381, 10.396, 10.412, 10.434, 10.465, 10.489, 10.532, 10.548, 10.561, 10.580,
  10.595, 10.608, 10.666, 10.685, 10.697, 10.709, 10.731, 10.744, 10.757, 10.776,
  10.802, 10.830, 10.852, 10.888, 10.914, 10.933, 10.955, 10.971, 11.000, 11.029,
  11.044, 11.059, 11.081, 11.105, 11.120, 11.153, 11.196, 11.229, 11.266, 11.300,
  11.320, 11.344, 11.372, 11.396, 11.425, 11.442, 11.468, 11.506, 11.525, 11.539,
  11.563, 11.585, 11.632, 11.668, 11.705, 11.730, 11.756, 11.812, 11.864, 11.893,
  11.938, 12.027, 12.205,
  10.540, 10.572, 10.620, 10.675, 10.720, 10.767, 10.790, 10.870, 10.900, 10.924,
  10.982, 11.070, 11.092, 11.112, 11.143, 11.163, 11.242, 11.255, 11.278, 11.332,
  11.384, 11.410, 11.433, 11.455, 11.550, 11.575, 11.720, 11.740, 11.805, 11.898,
  11.932, 12.200,
  10.525, 10.602, 10.690, 10.713, 10.735, 10.752, 10.806, 10.884, 10.918, 10.966,
  11.053, 11.086, 11.100, 11.150, 11.270, 11.376, 11.420, 11.446, 11.463, 11.535,
  11.560, 11.733, 11.816, 11.942, 12.208];
const residuals = [c0993, c1004, c1012, c1017, c1019, c1021, c1027, c1029, c1032, c1034,
  c1038, c1040, c1041, c1043, c1046, c1049, c1053, c1055, c1056, c1058,
  c1059, c1061, c1067, c1068, c1070, c1071, c1073, c1074, c1075, c1078,
  c1080, c1083, c1085, c1089, c1091, c1093, c1095, c1097, c1100, c1103,
  c1104, c1106, c1108, c1111, c1112, c1115, c1120, c1123, c1127, c1129,
  c1132, c1134, c1137, c1140, c1143, c1144, c1147, c1151, c1152, c1154,
  c1156, c1158, c1163, c1167, c1170, c1173, c1176, c1181, c1186, c1189,
  c1194, c1203, c1221,
  s1054, s1057, s1062, s1068, s1072, s1077, s1079, s1087, s1090, s1092,
  s1098, s1107, s1109, s1113, s1114, s1116, s1124, s1126, s1128, s1133,
  s1138, s1141, s1143, s1145, s1155, s1157, s1172, s1174, s1180, s1190,
  s1193, s1220,
  t1052, t1060, t1069, t1071, t1073, t1075, t1080, t1089, t1091, t1097,
  t1105, t1108, t1110, t1115, t1127, t1137, t1142, t1144, t1147, t1154,
  t1156, t1173, t1181, t1194, t1221];

// ticks y lineas de la rejilla
const xMajor = [10.0, 10.5, 11.0, 11.5, 12.0];
const xMinor = [10.25, 10.75, 11.25, 11.75, 12.25];
const yMajor = [-4, -2, 0, 2];
const yMinor = [-5, -3, -1, 1, 3];

let points = [];
fitted.forEach((x, i) => {
  residuals[i].forEach(y => points.push([x, y]));
});

const font = "Liberation Sans, Arial, Helvetica, sans-serif";
const xRange = { min: 9.816, max: 12.284 };
const yRange = { min: -5.29, max: 3.87 };
const labelStyle = { fontFamily: font, fontSize: 16, color: "#4d4d4d" };
const nameStyle = { fontFamily: font, fontSize: 21, color: "#000" };

let mychart = echarts.init(document.getElementById("chart"));
let option = {
  animation: false,
  title: {
    text: "Residuos vs Valores Ajustados",
    left: 62,
    top: 15,
    padding: 0,
    textStyle: { fontFamily: font, fontSize: 25, fontWeight: "normal", color: "#000" },
  },
  grid: { left: 62, right: 0, top: 48, bottom: 47, outerBoundsMode: "none" },
  xAxis: [
    {
      type: "value",
      ...xRange,
      name: "Valores Ajustados",
      nameLocation: "middle",
      nameGap: 26,
      nameTextStyle: nameStyle,
      axisLine: { show: false },
      axisTick: { show: false, customValues: xMajor },
      splitLine: { show: true, lineStyle: { color: "#ebebeb", width: 1.6 } },
      axisLabel: { customValues: xMajor, formatter: v => v.toFixed(1), margin: 8, ...labelStyle },
    },
    {
      // lineas menores
      type: "value",
      ...xRange,
      position: "top",
      axisLine: { show: false },
      axisTick: { show: false, customValues: xMinor },
      axisLabel: { show: false },
      splitLine: { show: true, lineStyle: { color: "#efefef", width: 0.9 } },
    },
  ],
  yAxis: [
    {
      type: "value",
      ...yRange,
      name: "Residuos del modelo",
      nameLocation: "middle",
      nameRotate: 90,
      nameGap: 30,
      nameMoveOverlap: false,
      nameTextStyle: nameStyle,
      axisLine: { show: false },
      axisTick: { show: false, customValues: yMajor },
      splitLine: { show: true, lineStyle: { color: "#ebebeb", width: 1.6 } },
      axisLabel: { customValues: yMajor, formatter: v => String(v), margin: 10, ...labelStyle },
    },
    {
      type: "value",
      ...yRange,
      position: "right",
      axisLine: { show: false },
      axisTick: { show: false, customValues: yMinor },
      axisLabel: { show: false },
      splitLine: { show: true, lineStyle: { color: "#efefef", width: 0.9 } },
    },
  ],
  series: [
    {
      type: "scatter",
      data: points,
      symbolSize: 7.5,
      large: false,
      progressive: 0,
      itemStyle: { color: "#000", opacity: 0.36 },
      markLine: {
        silent: true,
        symbol: ["none", "none"],
        label: { show: false },
        lineStyle: { color: "#ff0000", width: 1.8, type: "solid" },
        data: [{ yAxis: 0 }],
      },
    },
  ],
};
mychart.setOption(option);
</script>
</body>
</html>
